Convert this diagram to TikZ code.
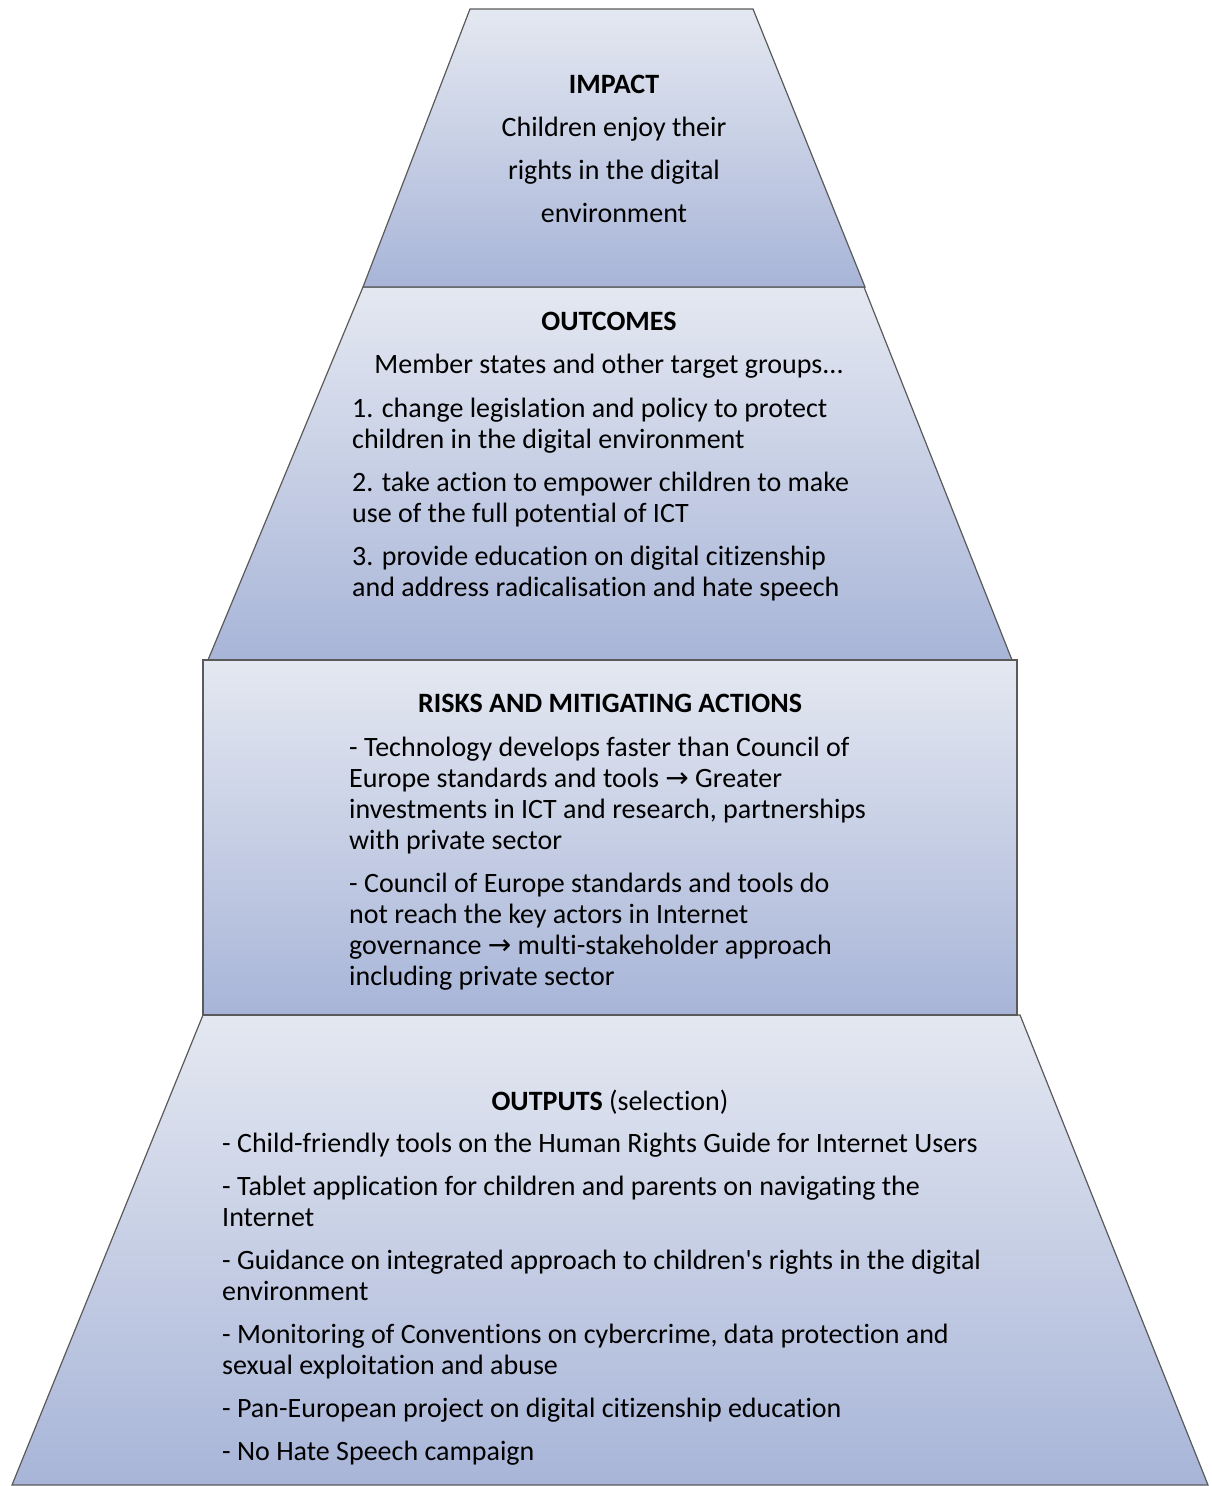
\documentclass[tikz,border=0pt]{standalone}
\usepackage{fontspec}
\setmainfont{Carlito}[Ligatures={NoCommon}]
\newfontfamily\arrowfont{DejaVu Sans}
\definecolor{shadetop}{RGB}{228,232,241}
\definecolor{shademid}{RGB}{204,210,230}
\definecolor{shadebot}{RGB}{168,181,216}
\definecolor{edge}{RGB}{90,90,90}
\newcommand{\arr}{{\arrowfont\fontsize{28}{31}\selectfont →}}
\begin{document}
\begin{tikzpicture}[x=1pt,y=-1pt,
  tier/.style={draw=edge,line width=1.2pt,top color=shadetop,middle color=shademid,bottom color=shadebot,line join=miter},
  head/.style={inner sep=0pt,anchor=north,align=center,font=\fontsize{28}{43}\selectfont},
  body/.style={inner sep=0pt,anchor=north west,align=left,font=\fontsize{28}{31}\selectfont}]
\useasboundingbox (0,0) rectangle (1211,1486);
% tiers
\path[tier] (12,1485) -- (203,1015) -- (1020,1015) -- (1208,1485) -- cycle;
\path[tier] (208,660) -- (363,287) -- (864,287) -- (1012,660) -- cycle;
\path[tier] (470,9) -- (753,9) -- (865,287) -- (363,287) -- cycle;
\path[tier] (203,660) rectangle (1017,1015);
% impact
\node[head] (impact) at (614,75) {\textbf{IMPACT}\\Children enjoy their\\rights in the digital\\environment};
% outcomes
\node[head] (outhead) at (609,312) {\textbf{OUTCOMES}\\Member states and other target groups...};
\node[body] (outbody) at (352,398) {1. change legislation and policy to protect\\children in the digital environment\\[12pt]
2. take action to empower children to make\\use of the full potential of ICT\\[12pt]
3. provide education on digital citizenship\\and address radicalisation and hate speech};
% risks
\node[head] (riskhead) at (610,694) {\textbf{RISKS AND MITIGATING ACTIONS}};
\node[body] (riskbody) at (349,737) {- Technology develops faster than Council of\\Europe standards and tools \arr{} Greater\\investments in ICT and research, partnerships\\with private sector\\[12pt]
- Council of Europe standards and tools do\\not reach the key actors in Internet\\governance \arr{} multi-stakeholder approach\\including private sector};
% outputs
\node[head] (outputshead) at (610,1090) {\textbf{OUTPUTS} (selection)};
\node[body] (outputsbody) at (222,1133) {- Child-friendly tools on the Human Rights Guide for Internet Users\\[12pt]
- Tablet application for children and parents on navigating the\\Internet\\[12pt]
- Guidance on integrated approach to children\textquotesingle s rights in the digital\\environment\\[12pt]
- Monitoring of Conventions on cybercrime, data protection and\\sexual exploitation and abuse\\[12pt]
- Pan-European project on digital citizenship education\\[12pt]
- No Hate Speech campaign};
\end{tikzpicture}
\end{document}
